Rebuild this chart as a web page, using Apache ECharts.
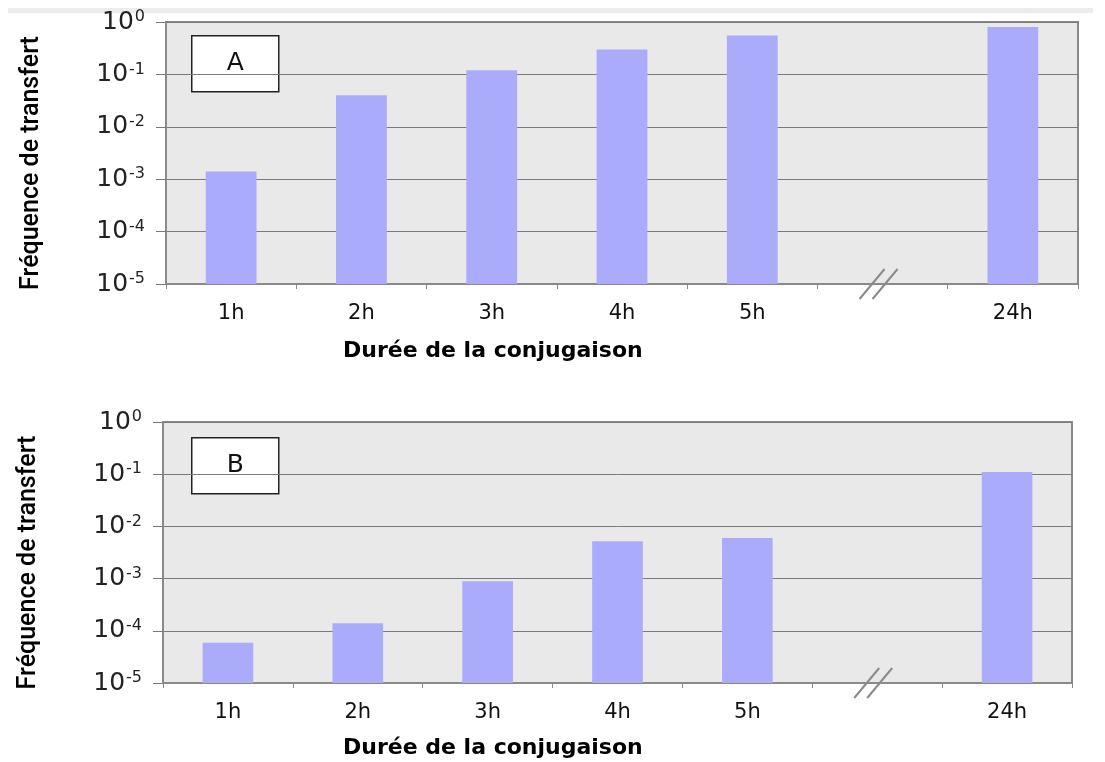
<!DOCTYPE html>
<html>
<head>
<meta charset="utf-8">
<script src="https://cdn.jsdelivr.net/npm/echarts@6/dist/echarts.min.js"></script>
<style>
  html, body { margin: 0; padding: 0; background: #fff; }
  #chart { width: 1105px; height: 762px; }
</style>
</head>
<body>
<div id="chart"></div>
<script>
// durée de conjugaison (la case vide porte la coupure d'axe)
const categories = ['1h', '2h', '3h', '4h', '5h', '', '24h']
// fréquences de transfert
const freqA = [1.4e-3, 0.04, 0.12, 0.30, 0.55, null, 0.80]
const freqB = [5.9e-5, 1.4e-4, 8.9e-4, 5.2e-3, 6.0e-3, null, 0.11]
// exposants des graduations 10^n
const yExponents = [0, -1, -2, -3, -4, -5]
const panelNames = ['A', 'B']
const xTitle = 'Durée de la conjugaison'
const yTitle = 'Fréquence de transfert'

const chart = echarts.init(document.getElementById('chart'))

const barColor = '#aaabfb'
const gridColor = '#7a7a7a'
const frameColor = '#8a8a8a'
const font = 'DejaVu Sans, Liberation Sans, sans-serif'
const yMin = Math.pow(10, Math.min(...yExponents))
const yMax = Math.pow(10, Math.max(...yExponents))
const breakIndex = categories.indexOf('')

const grids = [
  { left: 166, right: 27, top: 22, height: 262 },
  { left: 163, right: 33, top: 422, height: 261 },
]

const makeX = (i) => ({
  type: 'category',
  gridIndex: i,
  data: categories,
  axisLine: { lineStyle: { color: frameColor, width: 2 } },
  axisTick: { show: true, length: 5, lineStyle: { color: frameColor } },
  axisLabel: { interval: 0, margin: 19, fontFamily: font, fontSize: 21, color: '#111' },
})

const makeY = (i) => ({
  type: 'log',
  gridIndex: i,
  logBase: 10,
  min: yMin,
  max: yMax,
  name: yTitle,
  nameLocation: 'middle',
  nameGap: 122,
  nameRotate: 90,
  nameTextStyle: {
    fontFamily: 'Liberation Sans Narrow, Roboto, sans-serif',
    fontSize: 25,
    fontWeight: 500,
    color: '#000',
    padding: [0, 20, 0, 0],
  },
  axisLine: { show: true, lineStyle: { color: frameColor, width: 2 } },
  axisTick: { show: true, length: 10, lineStyle: { color: gridColor } },
  splitLine: { show: true, lineStyle: { color: gridColor, width: 1 } },
  axisLabel: {
    margin: 21,
    formatter: (v) => '{b|10}{s|' + Math.round(Math.log10(v)) + '}',
    rich: {
      b: { fontFamily: font, fontSize: 25, color: '#222', lineHeight: 26 },
      s: { fontFamily: font, fontSize: 16, color: '#222', verticalAlign: 'top', lineHeight: 14, padding: [0, 0, 0, 1] },
    },
  },
})

// barres tracées depuis le bas de l'axe log (10^-5)
const barSeries = (i, values) => ({
  type: 'custom',
  xAxisIndex: i,
  yAxisIndex: i,
  encode: { x: 0, y: 1 },
  data: values.map((v, k) => [k, v]).filter((d) => d[1] != null),
  renderItem: (params, api) => {
    const top = api.coord([api.value(0), api.value(1)])
    const base = api.coord([api.value(0), yMin])
    const w = api.size([1, 0])[0] * 0.39
    return {
      type: 'rect',
      shape: { x: top[0] - w / 2, y: top[1], width: w, height: base[1] - top[1] },
      style: { fill: barColor },
    }
  },
})

const breakMark = (i) => ({
  type: 'custom',
  xAxisIndex: i,
  yAxisIndex: i,
  silent: true,
  z: 5,
  data: [[breakIndex, yMin]],
  renderItem: (params, api) => {
    const p = api.coord([api.value(0), api.value(1)])
    const st = { stroke: frameColor, lineWidth: 2 }
    return {
      type: 'group',
      children: [
        { type: 'line', shape: { x1: p[0] - 23, y1: p[1] + 15, x2: p[0] + 2, y2: p[1] - 15 }, style: st },
        { type: 'line', shape: { x1: p[0] - 10, y1: p[1] + 15, x2: p[0] + 15, y2: p[1] - 15 }, style: st },
      ],
    }
  },
})

const labelBox = (name, top) => ({
  type: 'group',
  left: 191,
  top: top,
  z: 100,
  children: [
    { type: 'rect', shape: { x: 0, y: 0, width: 87, height: 56 }, style: { fill: '#fff', stroke: '#222', lineWidth: 1.5 } },
    { type: 'text', x: 43.5, y: 28, style: { text: name, font: '25px DejaVu Sans', fill: '#111', align: 'center', verticalAlign: 'middle' } },
  ],
})

const titleStyle = { fontFamily: font, fontSize: 22, fontWeight: 'bold', color: '#000' }

const options = {
  animation: false,
  backgroundColor: '#fff',
  grid: grids.map((g) => ({ ...g, show: true, backgroundColor: '#e9e9e9', borderColor: frameColor, borderWidth: 2 })),
  xAxis: [makeX(0), makeX(1)],
  yAxis: [makeY(0), makeY(1)],
  title: [
    { text: xTitle, left: 343, top: 340, padding: 0, textStyle: titleStyle },
    { text: xTitle, left: 343, top: 737, padding: 0, textStyle: titleStyle },
  ],
  graphic: [
    { type: 'rect', left: 8, top: 8, shape: { width: 1085, height: 5 }, style: { fill: '#ececec' } },
    labelBox(panelNames[0], 35),
    labelBox(panelNames[1], 437),
  ],
  series: [
    barSeries(0, freqA),
    barSeries(1, freqB),
    breakMark(0),
    breakMark(1),
  ],
}

chart.setOption(options)
</script>
</body>
</html>
